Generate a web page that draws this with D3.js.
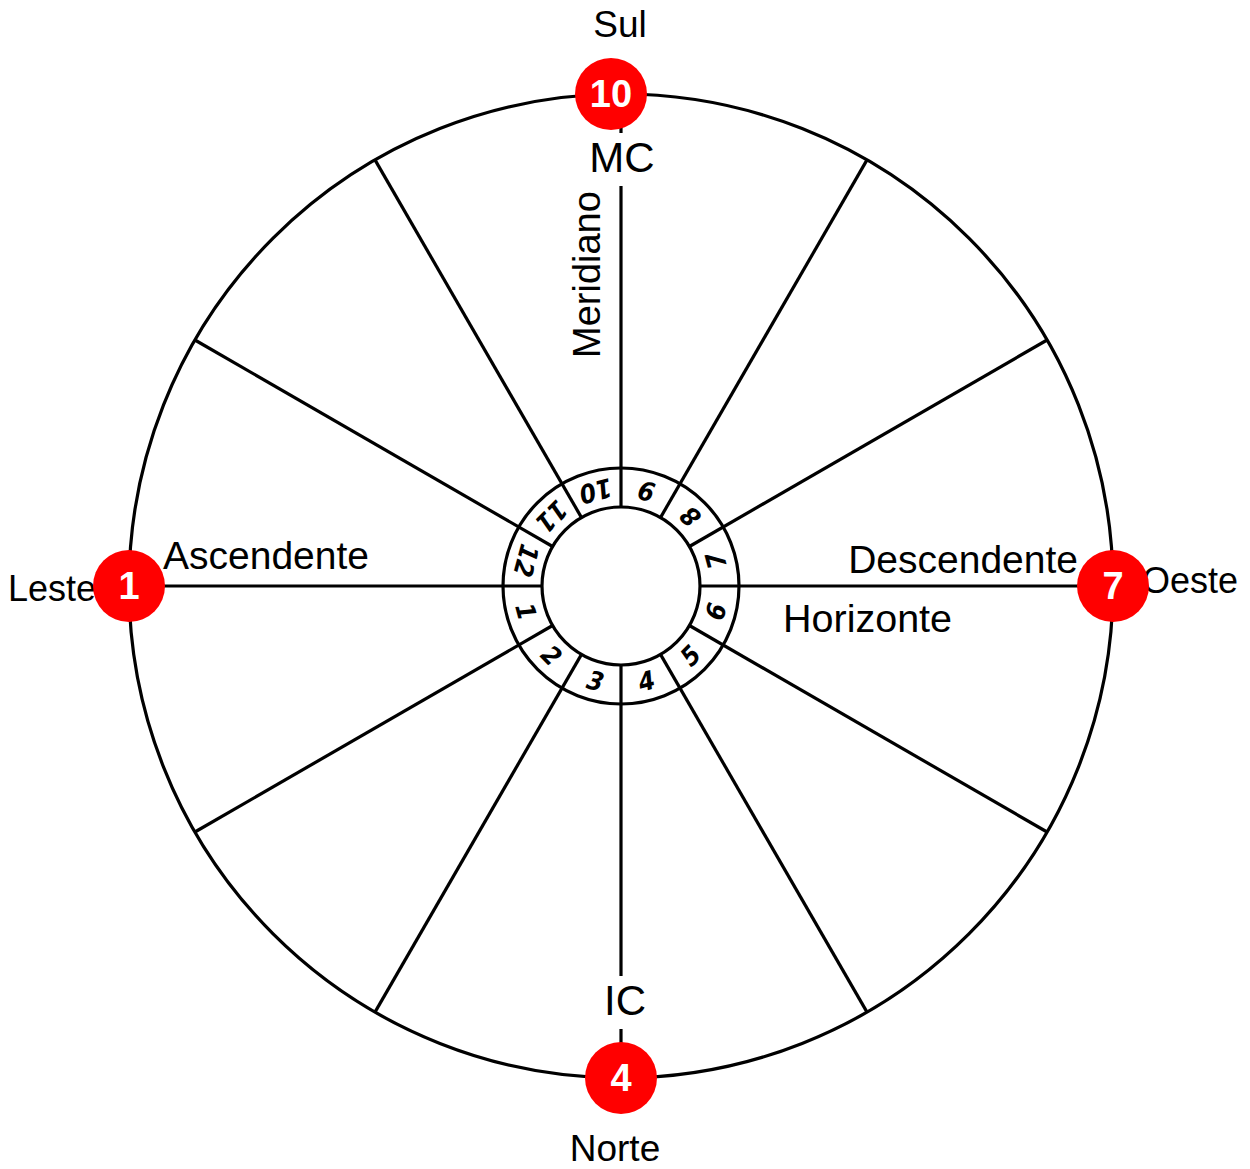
<!DOCTYPE html>
<html>
<head>
<meta charset="utf-8">
<script src="https://cdn.jsdelivr.net/npm/d3@7"></script>
<style>
  body { margin: 0; background: #fff; }
  svg { display: block; font-family: "Liberation Sans", Arial, sans-serif; }
</style>
</head>
<body>
<script>
// house numbers, counter-clockwise from the ascendant
const houseNumbers = [1, 2, 3, 4, 5, 6, 7, 8, 9, 10, 11, 12];
// cusp angles in degrees (0 = east/right, counter-clockwise)
const cuspAngles = [180, 210, 240, 270, 300, 330, 0, 30, 60, 90, 120, 150];
// angular houses sit on the four main cusps
const angularHouses = [1, 4, 7, 10];
const angularCusps = [180, 270, 0, 90];
const directionNames = ["Leste", "Norte", "Oeste", "Sul"];

const W = 1250, H = 1169;
const cx = 621, cy = 586;
const R = 492, rIn = 79, rRing = 118;

const svg = d3.select('body').append('svg')
    .attr('width', W).attr('height', H);

const deg = d3.scaleLinear().domain([0, 360]).range([0, 2 * Math.PI]);
const px = (a, r) => cx + r * Math.cos(deg(a));
const py = (a, r) => cy - r * Math.sin(deg(a));

// spokes
svg.selectAll('line.cusp')
    .data(cuspAngles)
    .enter()
    .append('line')
    .attr('class', 'cusp')
    .attr('x1', d => px(d, rIn)).attr('y1', d => py(d, rIn))
    .attr('x2', d => px(d, R)).attr('y2', d => py(d, R))
    .attr('stroke', '#000').attr('stroke-width', 3.2);

// circles
[R, rRing, rIn].forEach(r => {
  svg.append('circle')
      .attr('cx', cx).attr('cy', cy).attr('r', r)
      .attr('fill', 'none').attr('stroke', '#000').attr('stroke-width', 3.2);
});

// house numbers in the ring
const rLab = (rIn + rRing) / 2;
svg.selectAll('text.house')
    .data(houseNumbers)
    .enter()
    .append('text')
    .attr('class', 'house')
    .attr('transform', (d, i) => {
      const a = cuspAngles[i] + 15;
      return 'translate(' + px(a, rLab) + ',' + py(a, rLab) + ') rotate(' + (270 - a) + ')';
    })
    .attr('text-anchor', 'middle')
    .attr('dominant-baseline', 'central')
    .style('font-family', '"DejaVu Sans Condensed", "DejaVu Sans", sans-serif')
    .style('font-size', '26px')
    .style('font-weight', 'bold')
    .style('font-style', 'oblique')
    .text(d => d);

// text labels
function label(t, x, y, size, anchor, bg) {
  const el = svg.append('text')
      .attr('x', x).attr('y', y)
      .attr('text-anchor', anchor)
      .style('font-size', size + 'px')
      .text(t);
  if (bg) {
    const b = el.node().getBBox();
    svg.insert('rect', () => el.node())
        .attr('x', b.x - 3).attr('y', b.y - 1)
        .attr('width', b.width + 6).attr('height', b.height + 6)
        .attr('fill', '#fff');
  }
  return el;
}

label('MC', 622, 172, 42, 'middle', true);
label('IC', 625, 1015, 42, 'middle', true);
label('Ascendente', 163, 569, 39, 'start');
label('Descendente', 1078, 573, 39, 'end');
label('Horizonte', 783, 632, 39.5, 'start');
svg.append('text')
    .attr('transform', 'translate(600,358) rotate(-90)')
    .style('font-size', '38px')
    .text('Meridiano');

// compass directions
const dirPos = {
  Leste: {x: 96, y: 601, anchor: 'end', size: 36},
  Norte: {x: 615, y: 1161, anchor: 'middle', size: 37},
  Oeste: {x: 1142, y: 593, anchor: 'start', size: 36},
  Sul: {x: 620, y: 37, anchor: 'middle', size: 37}
};
directionNames.forEach(n => {
  const p = dirPos[n];
  label(n, p.x, p.y, p.size, p.anchor);
});

// red markers on the angles
const markerOffset = {10: -10};
const markers = svg.selectAll('g.marker')
    .data(angularHouses)
    .enter()
    .append('g')
    .attr('class', 'marker')
    .attr('transform', (d, i) => {
      const a = angularCusps[i];
      return 'translate(' + (px(a, R) + (markerOffset[d] || 0)) + ',' + py(a, R) + ')';
    });
markers.append('circle').attr('r', 36).attr('fill', '#ff0000');
markers.append('text')
    .attr('text-anchor', 'middle')
    .attr('dominant-baseline', 'central')
    .attr('fill', '#fff')
    .style('font-size', '38px')
    .style('font-weight', 'bold')
    .text(d => d);
</script>
</body>
</html>
